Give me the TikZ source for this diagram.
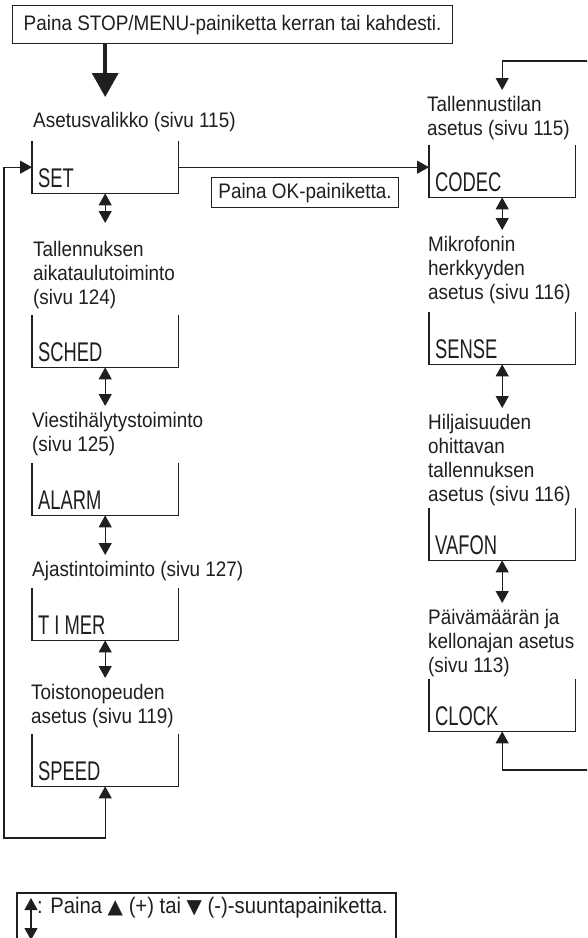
\documentclass[tikz,border=0pt]{standalone}
\usepackage{fontspec}
\setmainfont{Liberation Sans}[FakeStretch=0.9]
\newfontfamily\lcdfont{Liberation Sans}[FakeStretch=0.68]
\newfontfamily\symfont{DejaVu Sans}
\usetikzlibrary{arrows.meta,calc}

\colorlet{ink}{black!88}
\tikzset{
  line/.style={draw=ink, line width=1.2pt},
  menu/.style={anchor=north west, inner xsep=6pt, inner ysep=0pt, text width=134pt,
    align=left, text height=46pt, text depth=6pt, text=ink,
    font=\lcdfont\fontsize{27}{30}\selectfont},
  caption/.style={anchor=north west, inner xsep=0pt, inner ysep=6pt, align=left,
    text=ink, font=\fontsize{21}{24}\selectfont},
  note/.style={line, anchor=north west, inner sep=0pt, text=ink,
    font=\fontsize{21}{24}\selectfont},
  tip/.tip={Triangle[width=13pt,length=12pt]},
  updown/.style={line, fill=none, {tip}-{tip}, ink},
  toarrow/.style={line, -{tip}, ink},
}

\begin{document}
\begin{tikzpicture}[x=1pt, y=-1pt]
\useasboundingbox (0,0) rectangle (587,938);
\clip (0,0) rectangle (587,938);

\node[note, minimum width=440pt, minimum height=38pt] (start) at (12,5)
  {Paina STOP/MENU-painiketta kerran tai kahdesti.};

% left column
\node[caption] (setcap) at (33,106) {Asetusvalikko (sivu 115)};
\node[menu] (set) at (32,141) {SET};
\node[caption] (schedcap) at (33,235) {Tallennuksen\\aikataulutoiminto\\(sivu 124)};
\node[menu] (sched) at (32,315) {SCHED};
\node[caption] (alarmcap) at (32,406) {Viestihälytystoiminto\\(sivu 125)};
\node[menu] (alarm) at (32,463) {ALARM};
\node[caption] (timercap) at (32,555) {Ajastintoiminto (sivu 127)};
\node[menu] (timer) at (32,588) {T\kern5pt I\kern5pt MER};
\node[caption] (speedcap) at (31,678) {Toistonopeuden\\asetus (sivu 119)};
\node[menu] (speed) at (32,734) {SPEED};

% right column
\node[caption] (codeccap) at (427,90) {Tallennustilan\\asetus (sivu 115)};
\node[menu] (codec) at (429,145) {CODEC};
\node[caption] (sensecap) at (428,230) {Mikrofonin\\herkkyyden\\asetus (sivu 116)};
\node[menu] (sense) at (429,312) {SENSE};
\node[caption] (vafoncap) at (428,408) {Hiljaisuuden\\ohittavan\\tallennuksen\\asetus (sivu 116)};
\node[menu] (vafon) at (429,508) {VAFON};
\node[caption] (clockcap) at (428,603) {Päivämäärän ja\\kellonajan asetus\\(sivu 113)};
\node[menu] (clock) at (429,679) {CLOCK};

\node[note, minimum width=187pt, minimum height=30pt] (okbtn) at (211,177) {Paina OK-painiketta.};

% open-topped frames round the menu items
\foreach \b in {set,sched,alarm,timer,speed,codec,sense,vafon,clock}
  \draw[line] (\b.north west) |- (\b.south east) -- (\b.north east);

\draw[ink, line width=3.5pt, -{Triangle[width=26pt,length=24pt]}, shorten >=9pt]
  (start.south -| set.south) -- (setcap.north -| set.south);

\draw[updown, shorten >=12pt] (set.south) -- (schedcap.north -| set.south);
\draw[updown] (sched.south) -- (alarmcap.north -| sched.south);
\draw[updown] (alarm.south) -- (timercap.north -| alarm.south);
\draw[updown] (timer.south) -- (speedcap.north -| timer.south);

\draw[updown] (codec.south) -- (sensecap.north -| codec.south);
\draw[updown] (sense.south) -- (vafoncap.north -| sense.south);
\draw[updown] (vafon.south) -- (clockcap.north -| vafon.south);

\draw[toarrow] (set.east) -- (set.east -| codec.west);

% wrap-around loops
\coordinate (loopL) at (4,838);
\draw[updown] (speed.south) |- (loopL) |- (set.west);
\coordinate (loopRb) at (610,770);
\coordinate (loopRt) at (610,61);
\draw[updown] (clock.south) |- (loopRb) -- (loopRt) -| (codeccap.north -| codec.south);

% key
\node[anchor=base west, inner sep=0pt, text=ink, font=\fontsize{22.5}{24}\selectfont] (key) at (37,913)
  {: Paina {\symfont\fontsize{20}{20}\selectfont ▲} (+) tai {\symfont\fontsize{20}{20}\selectfont ▼} (-)-suuntapainiketta.};
\draw[line] (17,960) |- (396,893) -- (396,960);
\draw[updown] (31,898) -- (31,940);
\end{tikzpicture}
\end{document}
